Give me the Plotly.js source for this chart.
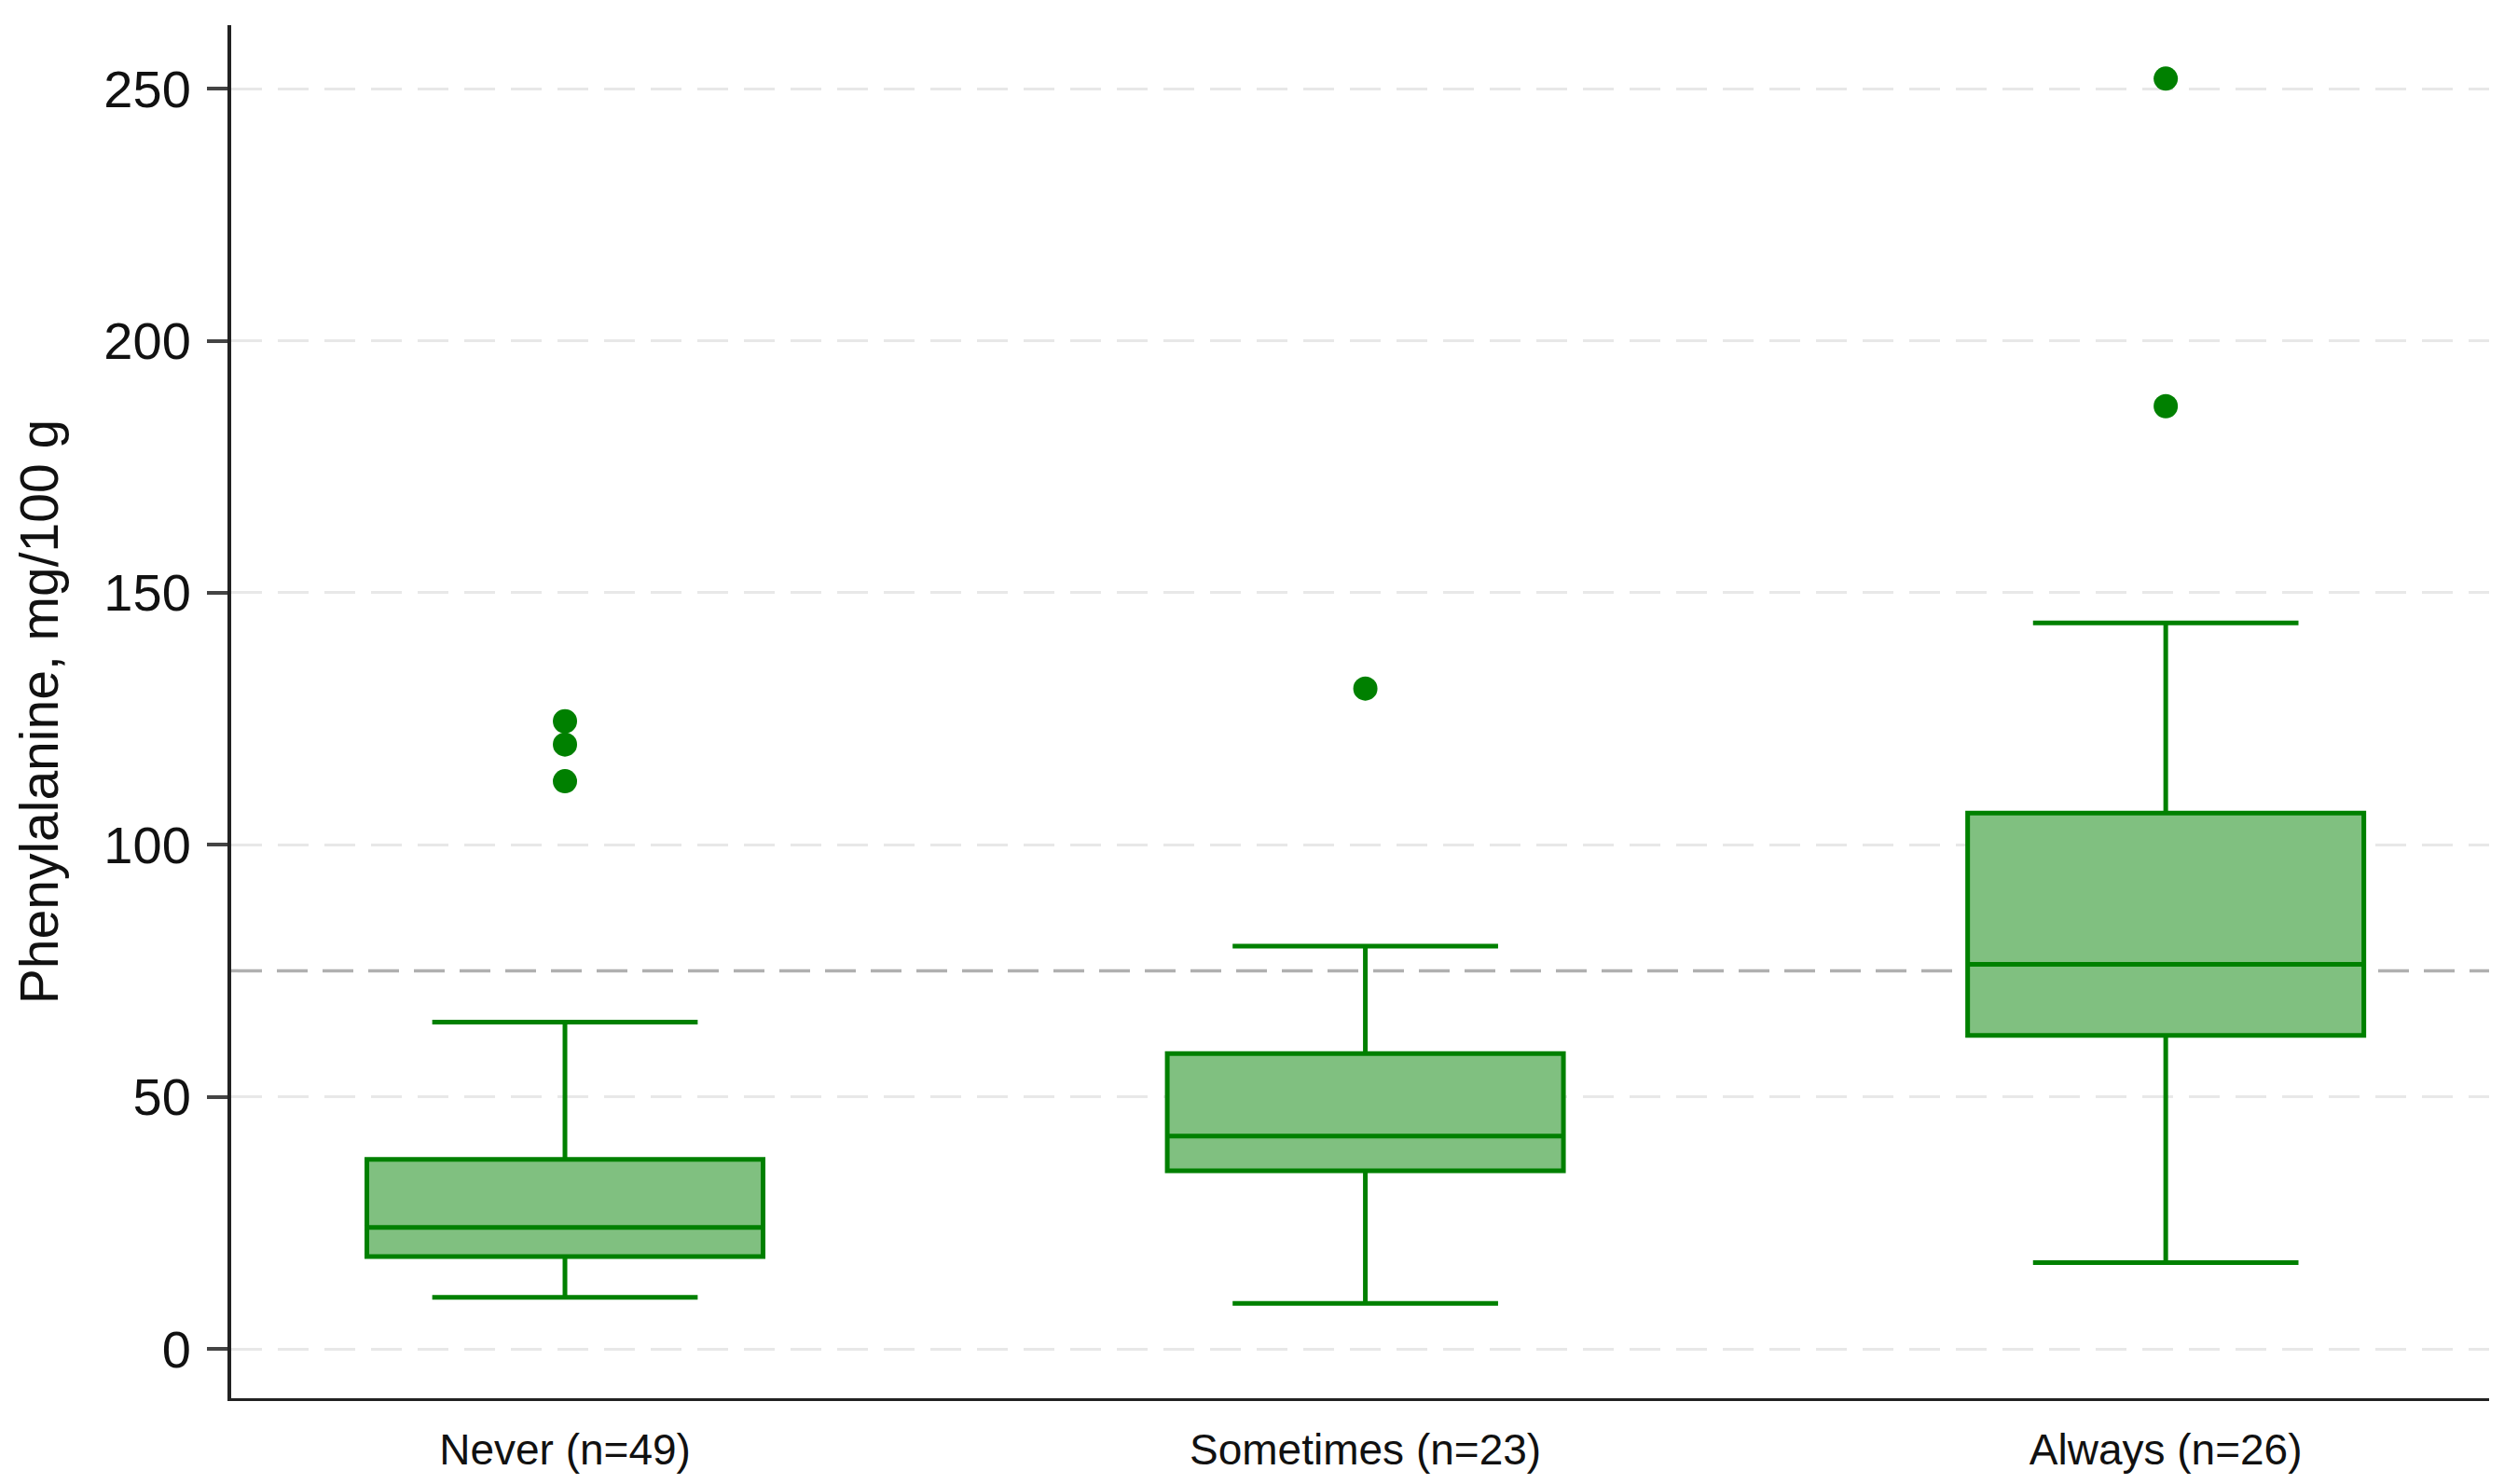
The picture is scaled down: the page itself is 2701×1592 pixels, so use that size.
<!DOCTYPE html>
<html>
<head>
<meta charset="utf-8">
<script src="https://cdn.plot.ly/plotly-3.0.1.min.js"></script>
<style>
  html, body { margin: 0; padding: 0; background: #fff; }
  #chart { width: 2701px; height: 1592px; }
</style>
</head>
<body>
<div id="chart"></div>
<script>
// Box summary per group (mg/100 g)
const categories = ['Never (n=49)', 'Sometimes (n=23)', 'Always (n=26)'];
const lowerWhisker = [10.2, 9.0, 17.1];
const q1Values = [18.3, 35.3, 62.2];
const medianValues = [24.1, 42.2, 76.3];
const q3Values = [37.6, 58.6, 106.3];
const upperWhisker = [64.8, 79.9, 144.0];

// Outliers drawn as dots
const outlierGroups = ['Never (n=49)', 'Never (n=49)', 'Never (n=49)', 'Sometimes (n=23)', 'Always (n=26)', 'Always (n=26)'];
const outlierValues = [124.5, 119.9, 112.6, 131.0, 252.0, 187.0];

// Dashed reference level
const referenceLevel = 75;

const yTickValues = [0, 50, 100, 150, 200, 250];

const green = '#008000';
const fontFamily = '"Liberation Sans", Arial, sans-serif';

const boxTrace = {
    type: 'box',
    x: categories,
    q1: q1Values,
    median: medianValues,
    q3: q3Values,
    lowerfence: lowerWhisker,
    upperfence: upperWhisker,
    boxpoints: false,
    width: 0.495,
    whiskerwidth: 0.67,
    fillcolor: '#80c080',
    line: { color: green, width: 5 },
    showlegend: false,
    hoverinfo: 'y'
};

const outlierTrace = {
    type: 'scatter',
    mode: 'markers',
    x: outlierGroups,
    y: outlierValues,
    marker: { color: green, size: 26 },
    showlegend: false,
    hoverinfo: 'y'
};

const layout = {
    width: 2701,
    height: 1592,
    margin: { l: 248, r: 31, t: 27, b: 92 },
    paper_bgcolor: '#fff',
    plot_bgcolor: '#fff',
    font: { family: fontFamily, color: '#111' },
    xaxis: {
        type: 'category',
        categoryorder: 'array',
        categoryarray: categories,
        range: [-0.417, 2.404],
        showline: true,
        linecolor: '#222',
        linewidth: 3,
        showgrid: false,
        zeroline: false,
        ticks: '',
        ticklabelstandoff: 13,
        tickfont: { size: 46, family: fontFamily, color: '#111' }
    },
    yaxis: {
        range: [-9.8, 262.6],
        tickmode: 'array',
        tickvals: yTickValues,
        ticktext: yTickValues.map(String),
        showline: true,
        linecolor: '#222',
        linewidth: 4,
        ticks: 'outside',
        ticklen: 22,
        tickwidth: 4,
        tickcolor: '#444',
        ticklabelstandoff: 6,
        tickfont: { size: 56, family: fontFamily, color: '#111' },
        showgrid: true,
        gridcolor: '#e8e8e8',
        gridwidth: 3,
        griddash: '33px,17px',
        zeroline: false,
        automargin: true,
        title: {
            text: 'Phenylalanine, mg/100 g',
            font: { size: 57, family: fontFamily, color: '#111' },
            standoff: 31
        }
    },
    shapes: [{
        type: 'line',
        xref: 'paper',
        yref: 'y',
        x0: 0,
        x1: 1,
        y0: referenceLevel,
        y1: referenceLevel,
        layer: 'below',
        line: { color: '#b0b0b0', width: 3.5, dash: '33px,16px' }
    }]
};

Plotly.newPlot('chart', [boxTrace, outlierTrace], layout, { displayModeBar: false, staticPlot: true });
</script>
</body>
</html>
